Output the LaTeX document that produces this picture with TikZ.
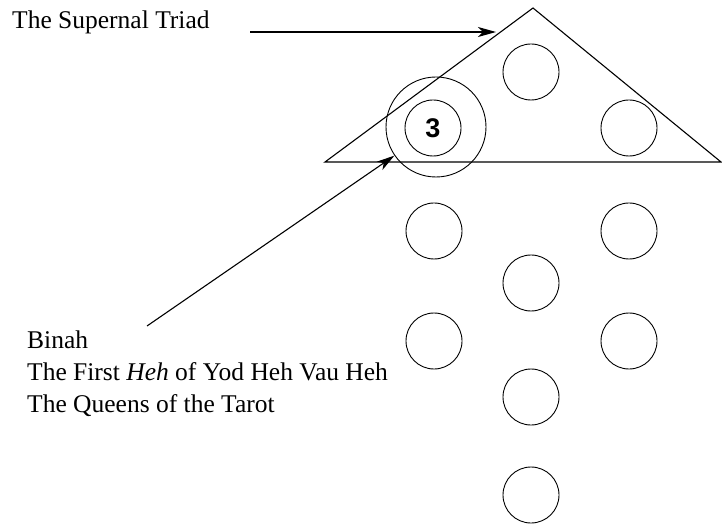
\documentclass[tikz,border=0pt]{standalone}
\usepackage{fontspec}
\setmainfont{Liberation Serif}
\newfontfamily\numfont{Liberation Sans}
\usetikzlibrary{arrows.meta}

\begin{document}
\begin{tikzpicture}[
  x=1pt, y=-1pt,
  sephirah/.style={draw, circle, minimum size=56pt, inner sep=0pt, line width=0.9pt},
  arrow/.style={-{Stealth[length=18pt, width=10pt, inset=5pt]}, line width=1.1pt},
  txt/.style={inner sep=0pt, font=\fontsize{25.5}{32}\selectfont},
]
  \useasboundingbox (0,0) rectangle (722,526);

  % the supernal triad
  \coordinate (apex) at (533,8);
  \coordinate (lefttip) at (325,162);
  \coordinate (righttip) at (721,162);
  \draw[line width=1.1pt] (lefttip) -- (apex) -- (righttip) -- cycle;

  % the ten sephiroth
  \node[sephirah] (kether) at (531,72) {};
  \node[sephirah] (chokmah) at (629,128) {};
  \node[sephirah, font=\numfont\bfseries\fontsize{27}{27}\selectfont] (binah) at (433,128) {3};
  \node[sephirah, minimum size=100pt] (binahring) at (436,127) {};
  \node[sephirah] (geburah) at (434,231) {};
  \node[sephirah] (chesed) at (629,231) {};
  \node[sephirah] (tiphareth) at (531,283) {};
  \node[sephirah] (hod) at (434,341) {};
  \node[sephirah] (netzach) at (629,341) {};
  \node[sephirah] (yesod) at (531,397) {};
  \node[sephirah] (malkuth) at (531,495) {};

  % captions
  \node[txt, anchor=base west] (supernal) at (12,29) {The Supernal Triad};
  \node[txt, anchor=north west, align=left] (binahtext) at (27,331)
    {Binah\\The First \textit{Heh} of Yod Heh Vau Heh\\The Queens of the Tarot};

  \coordinate (triadtail) at (250,32);
  \coordinate (triadtip) at (496,32);
  \coordinate (binahtail) at (147,326);
  \draw[arrow] (triadtail) -- (triadtip);
  \draw[arrow] (binahtail) -- (binahring);
\end{tikzpicture}
\end{document}
